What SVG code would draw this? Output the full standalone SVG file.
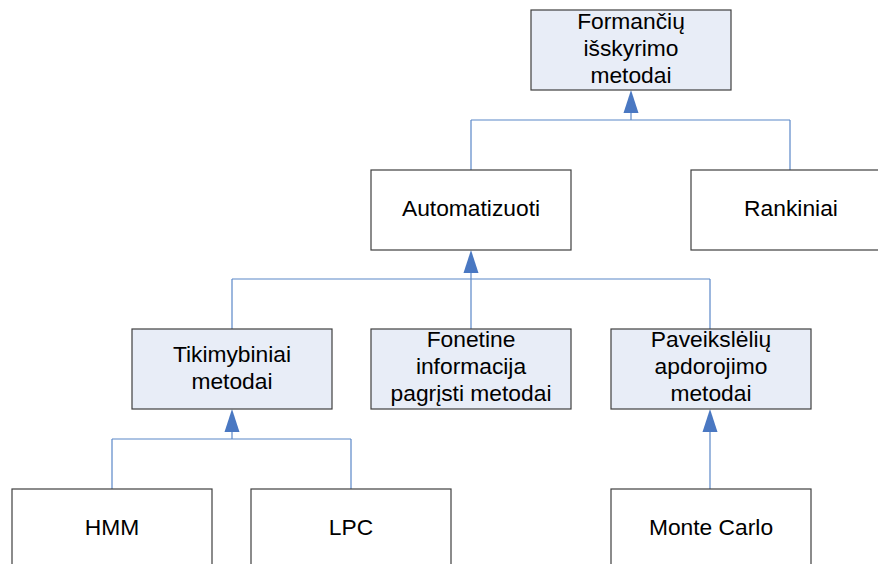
<svg xmlns="http://www.w3.org/2000/svg" width="878" height="564" viewBox="0 0 878 564">
  <style>
    .box { stroke: #3f3f3f; stroke-width: 1.2; }
    .plain { fill: #ffffff; }
    .tinted { fill: #e8edf7; }
    .lbl { font-family: "Liberation Sans", Arial, sans-serif; font-size: 22.8px; fill: #000000; text-anchor: middle; }
    .wire { fill: none; stroke: #5b88c8; stroke-width: 1.2; }
    .head { fill: #4a78c2; }
  </style>
  <defs>
    <polygon id="tip" class="head" points="0,0 -7.5,23 7.5,23"/>
  </defs>
  <rect width="878" height="564" fill="#ffffff"/>

  <g id="connectors">
    <!-- level 1 -->
    <path class="wire" d="M631,100 V120 M471,120 H790 M471,120 V170 M790,120 V170"/>
    <use href="#tip" x="631" y="90"/>
    <!-- level 2 -->
    <path class="wire" d="M471,260 V329 M232,279 H710 M232,279 V329 M710,279 V329"/>
    <use href="#tip" x="471" y="250"/>
    <!-- level 3, left branch -->
    <path class="wire" d="M232,420 V439 M112,439 H351 M112,439 V489 M351,439 V489"/>
    <use href="#tip" x="232" y="409"/>
    <!-- level 3, right branch -->
    <path class="wire" d="M710,420 V489"/>
    <use href="#tip" x="710" y="409"/>
  </g>

  <g id="node-formanciu">
    <rect class="box tinted" x="531" y="10" width="200" height="80"/>
    <text class="lbl" x="631" y="29">Formančių</text>
    <text class="lbl" x="631" y="56">išskyrimo</text>
    <text class="lbl" x="631" y="83">metodai</text>
  </g>

  <g id="node-automatizuoti">
    <rect class="box plain" x="371" y="170" width="200" height="80"/>
    <text class="lbl" x="471" y="216">Automatizuoti</text>
  </g>

  <g id="node-rankiniai">
    <rect class="box plain" x="691" y="170" width="200" height="80"/>
    <text class="lbl" x="791" y="216">Rankiniai</text>
  </g>

  <g id="node-tikimybiniai">
    <rect class="box tinted" x="132" y="329" width="200" height="80"/>
    <text class="lbl" x="232" y="362">Tikimybiniai</text>
    <text class="lbl" x="232" y="389">metodai</text>
  </g>

  <g id="node-fonetine">
    <rect class="box tinted" x="371" y="329" width="200" height="80"/>
    <text class="lbl" x="471" y="347">Fonetine</text>
    <text class="lbl" x="471" y="374">informacija</text>
    <text class="lbl" x="471" y="401">pagrįsti metodai</text>
  </g>

  <g id="node-paveiksleliu">
    <rect class="box tinted" x="611" y="329" width="200" height="80"/>
    <text class="lbl" x="711" y="347">Paveikslėlių</text>
    <text class="lbl" x="711" y="374">apdorojimo</text>
    <text class="lbl" x="711" y="401">metodai</text>
  </g>

  <g id="node-hmm">
    <rect class="box plain" x="12" y="489" width="200" height="80"/>
    <text class="lbl" x="112" y="535">HMM</text>
  </g>

  <g id="node-lpc">
    <rect class="box plain" x="251" y="489" width="200" height="80"/>
    <text class="lbl" x="351" y="535">LPC</text>
  </g>

  <g id="node-monte-carlo">
    <rect class="box plain" x="611" y="489" width="200" height="80"/>
    <text class="lbl" x="711" y="535">Monte Carlo</text>
  </g>
</svg>
